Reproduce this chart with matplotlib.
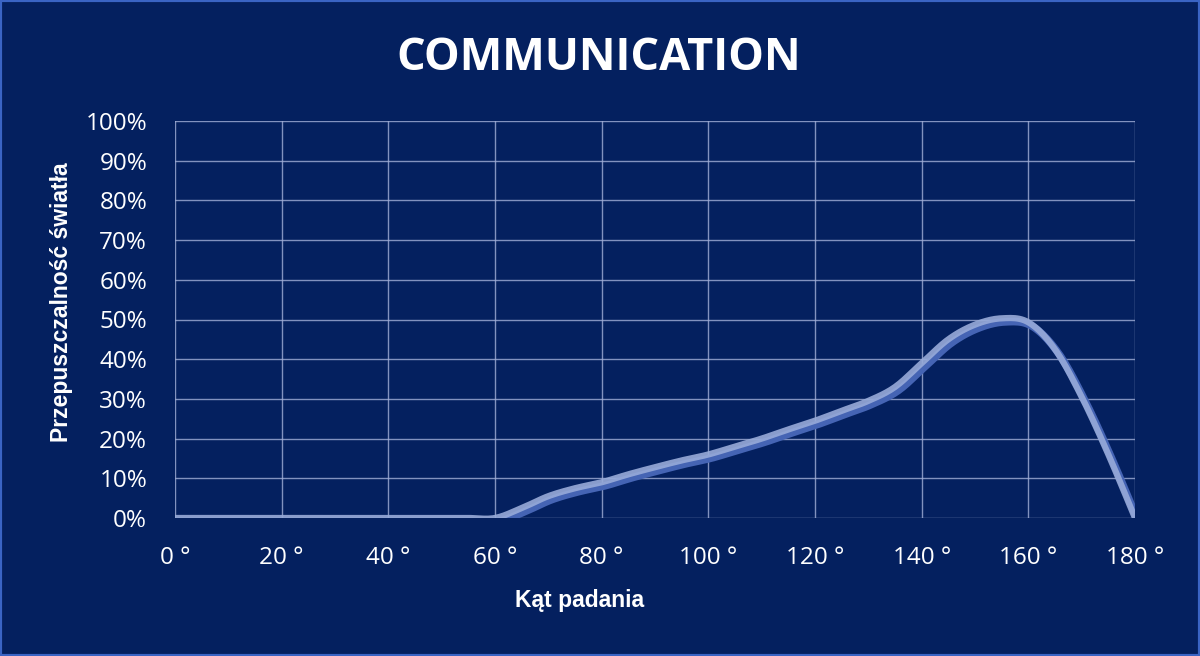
import numpy as np
import matplotlib
matplotlib.use("Agg")
import matplotlib.pyplot as plt
from matplotlib.patches import Rectangle

# dane
angles = [0, 5, 10, 15, 20, 25, 30, 35, 40, 45, 50, 55, 60, 65, 70, 75, 80, 85, 90,
          95, 100, 105, 110, 115, 120, 125, 130, 135, 140, 145, 150, 155, 160, 165,
          170, 175, 180]
transmission = [0, 0, 0, 0, 0, 0, 0, 0, 0, 0, 0, 0, 0, 2.5, 5.5, 7.5, 9, 11, 12.8,
                14.5, 16, 18, 20, 22.3, 24.5, 27, 29.5, 33, 39, 45, 48.7, 50.3, 49.3, 42.5,
                30.5, 16, 0]
x_ticks = [0, 20, 40, 60, 80, 100, 120, 140, 160, 180]
y_ticks = [0, 10, 20, 30, 40, 50, 60, 70, 80, 90, 100]

bg = "#04205f"

def smooth(x, y, n=12):
    # catmull-rom, jak wygladzona linia w excelu
    x = np.asarray(x, float); y = np.asarray(y, float)
    px = np.concatenate([[x[0]], x, [x[-1]]])
    py = np.concatenate([[y[0]], y, [y[-1]]])
    xs, ys = [], []
    for i in range(1, len(px) - 2):
        t = np.linspace(0, 1, n, endpoint=False)
        for p, out in ((px, xs), (py, ys)):
            p0, p1, p2, p3 = p[i-1], p[i], p[i+1], p[i+2]
            out.extend(0.5 * ((2*p1) + (-p0 + p2)*t + (2*p0 - 5*p1 + 4*p2 - p3)*t**2
                              + (-p0 + 3*p1 - 3*p2 + p3)*t**3))
    xs.append(x[-1]); ys.append(y[-1])
    return np.array(xs), np.array(ys)

plt.rcParams['font.family'] = ['Open Sans', 'DejaVu Sans']

fig = plt.figure(figsize=(12, 6.56), dpi=100, facecolor=bg)
fig.patches.append(Rectangle((0, 0), 1, 1, transform=fig.transFigure, fill=False,
                             edgecolor="#3a64c4", linewidth=3, zorder=10))
ax = fig.add_axes([175/1200, 1 - 518/656, 960/1200, 397/656])
ax.set_facecolor(bg)

sx, sy = smooth(angles, transmission)
ax.plot(sx + 0.6, sy - 0.9, color="#4564b4", linewidth=5.5, solid_capstyle="round", zorder=3)
ax.plot(sx, sy, color="#98abd9", linewidth=4.5, alpha=0.9, solid_capstyle="round", zorder=4)

ax.set_xlim(0, 180)
ax.set_ylim(0, 100)
ax.set_xticks(x_ticks)
ax.set_xticklabels([f"{v} °" for v in x_ticks])
ax.set_yticks(y_ticks)
ax.set_yticklabels([f"{v}%" for v in y_ticks])
ax.grid(True, color="#a3b0d8", linewidth=1, alpha=0.8)
ax.set_axisbelow(True)
for s in ax.spines.values():
    s.set_visible(False)
ax.tick_params(length=0, colors="white", labelsize=17.5)
ax.tick_params(axis="y", pad=20)
ax.tick_params(axis="x", pad=20)

fig.text(0.4985, 1 - 58/656, "COMMUNICATION", color="white", fontsize=32.5,
         fontweight="bold", ha="center", va="center")
fig.text(580/1200, 1 - 601/656, "Kąt padania", color="white", fontsize=16.5,
         fontweight="bold", family="Liberation Sans", ha="center", va="center")
fig.text(62/1200, 1 - 302/656, "Przepuszczalność światła", color="white", fontsize=16.5,
         fontweight="bold", family="Liberation Sans", ha="center", va="center",
         rotation=90)

fig.savefig("out.png", dpi=100, facecolor=bg)
